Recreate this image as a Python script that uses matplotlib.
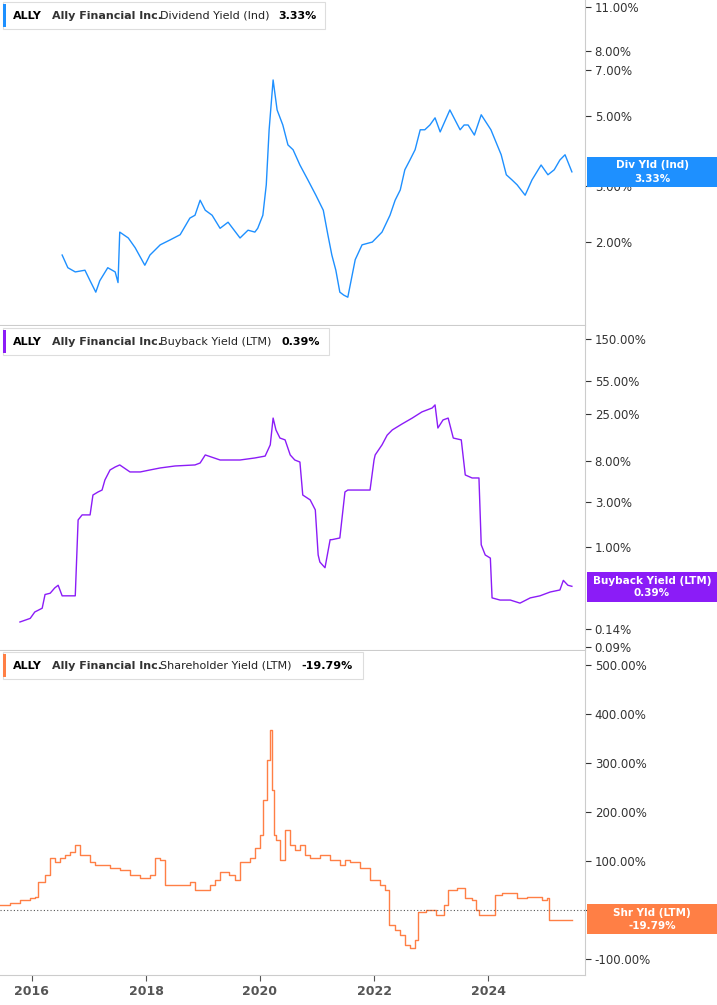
import matplotlib
matplotlib.use("Agg")
import matplotlib.pyplot as plt
from matplotlib.patches import Rectangle

# ---------------- data ----------------
div_years = [2016.53,2016.63,2016.76,2016.93,2017.02,2017.12,2017.19,2017.33,2017.46,2017.51,2017.54,2017.69,2017.81,2017.98,2018.07,2018.25,2018.42,2018.60,2018.77,2018.86,2018.95,2019.04,2019.16,2019.30,2019.44,2019.65,2019.79,2019.91,2019.96,2020.05,2020.11,2020.16,2020.23,2020.30,2020.40,2020.49,2020.58,2020.70,2020.84,2020.98,2021.11,2021.19,2021.26,2021.33,2021.40,2021.47,2021.54,2021.67,2021.79,2021.97,2022.14,2022.28,2022.37,2022.46,2022.54,2022.63,2022.72,2022.81,2022.89,2022.98,2023.07,2023.16,2023.33,2023.51,2023.58,2023.65,2023.76,2023.88,2024.05,2024.23,2024.32,2024.42,2024.51,2024.65,2024.77,2024.93,2025.05,2025.16,2025.26,2025.35,2025.47]
div_vals  = [1.82,1.66,1.61,1.63,1.51,1.39,1.51,1.66,1.61,1.49,2.15,2.06,1.92,1.69,1.82,1.96,2.03,2.11,2.38,2.43,2.71,2.52,2.43,2.21,2.31,2.06,2.18,2.15,2.21,2.43,3.03,4.52,6.49,5.22,4.68,4.05,3.91,3.50,3.14,2.81,2.52,2.11,1.82,1.63,1.39,1.36,1.34,1.76,1.96,2.00,2.15,2.43,2.71,2.92,3.38,3.63,3.91,4.52,4.52,4.68,4.93,4.45,5.22,4.52,4.68,4.68,4.35,5.04,4.52,3.77,3.26,3.14,3.03,2.81,3.14,3.50,3.26,3.38,3.63,3.77,3.33]

bb_years = [2015.79,2015.97,2016.05,2016.18,2016.23,2016.32,2016.40,2016.46,2016.53,2016.67,2016.76,2016.81,2016.88,2017.02,2017.07,2017.16,2017.23,2017.28,2017.37,2017.46,2017.54,2017.72,2017.90,2018.07,2018.25,2018.51,2018.86,2018.95,2019.04,2019.30,2019.65,2019.91,2020.09,2020.18,2020.23,2020.28,2020.35,2020.44,2020.53,2020.61,2020.70,2020.75,2020.88,2020.97,2021.02,2021.05,2021.14,2021.23,2021.26,2021.40,2021.49,2021.54,2021.93,2022.00,2022.02,2022.14,2022.23,2022.32,2022.49,2022.67,2022.84,2023.02,2023.07,2023.12,2023.21,2023.30,2023.39,2023.53,2023.60,2023.72,2023.84,2023.88,2023.95,2024.04,2024.07,2024.21,2024.39,2024.56,2024.74,2024.91,2025.09,2025.26,2025.32,2025.40,2025.47]
bb_vals  = [0.165,0.18,0.21,0.23,0.32,0.33,0.375,0.40,0.31,0.31,0.31,1.93,2.18,2.18,3.52,3.79,3.97,5.06,6.44,6.92,7.27,6.14,6.14,6.44,6.76,7.09,7.27,7.62,9.25,8.19,8.19,8.6,9.0,11.8,22.5,16.9,13.9,13.3,9.25,8.19,7.8,3.52,3.13,2.46,0.83,0.70,0.61,1.2,1.2,1.25,3.79,3.97,3.97,8.19,9.25,11.8,14.9,16.9,19.5,22.5,26.1,28.7,30.9,17.7,21.5,22.5,13.9,13.3,5.71,5.31,5.31,1.06,0.83,0.77,0.295,0.28,0.28,0.26,0.295,0.31,0.34,0.357,0.45,0.40,0.39]

shr_years = [2015.44,2015.61,2015.79,2015.97,2016.05,2016.11,2016.23,2016.32,2016.40,2016.49,2016.58,2016.67,2016.76,2016.84,2017.02,2017.11,2017.19,2017.37,2017.54,2017.72,2017.90,2018.07,2018.16,2018.25,2018.33,2018.60,2018.77,2018.86,2019.12,2019.21,2019.30,2019.46,2019.56,2019.65,2019.82,2019.91,2020.00,2020.05,2020.12,2020.18,2020.21,2020.25,2020.28,2020.35,2020.44,2020.53,2020.61,2020.70,2020.79,2020.88,2021.05,2021.23,2021.40,2021.49,2021.58,2021.75,2021.93,2022.02,2022.11,2022.19,2022.26,2022.37,2022.46,2022.54,2022.63,2022.72,2022.77,2022.91,2023.09,2023.23,2023.30,2023.46,2023.60,2023.72,2023.79,2023.84,2024.07,2024.12,2024.24,2024.51,2024.69,2024.95,2025.04,2025.07,2025.47]
shr_vals  = [10,14,20,24,27,57,71,106,98,106,112,118,133,112,98,92,92,86,82,71,65,71,106,102,51,51,57,41,51,61,78,71,61,98,106,127,153,224,306,367,245,153,143,102,163,133,122,133,112,106,112,102,92,102,98,86,61,61,51,41,-31,-41,-51,-71,-78,-61,-4,0,-10,10,41,45,24,20,0,-10,-10,31,35,24,27,20,24,-20,-20]

div_ticks = [2, 3, 5, 7, 8, 11]
bb_ticks = [0.09, 0.14, 1, 3, 8, 25, 55, 150]
shr_ticks = [-100, 0, 100, 200, 300, 400, 500]
x_ticks = [2016, 2018, 2020, 2022, 2024]

C_DIV, C_BB, C_SHR = "#1e90ff", "#8b1cf7", "#ff7f45"

W, H = 717, 1005
fig = plt.figure(figsize=(W/100, H/100), dpi=100)
R = 585 / W

def mkax(top, bot):
    return fig.add_axes([0, 1 - bot/H, R, (bot-top)/H])

ax1 = mkax(0, 325); ax2 = mkax(326, 650); ax3 = mkax(651, 975)
for ax in (ax1, ax2, ax3):
    ax.set_xlim(2015.44, 2025.70)
    for s in ("left", "top"):
        ax.spines[s].set_visible(False)
    ax.spines["right"].set_color("#cccccc")
    ax.spines["bottom"].set_color("#cccccc")
    ax.yaxis.tick_right()
    ax.tick_params(axis="y", labelsize=8.5, colors="#333333", length=4, pad=3)
    ax.set_xticks(x_ticks)
for ax in (ax1, ax2):
    ax.tick_params(axis="x", length=0, labelbottom=False)
ax3.tick_params(axis="x", labelsize=9, colors="#555555", length=4)
ax3.set_xticklabels([str(t) for t in x_ticks], fontweight="bold")

ax1.plot(div_years, div_vals, color=C_DIV, lw=1)
ax1.set_yscale("log"); ax1.set_ylim(1.095, 11.6)
ax1.minorticks_off()
ax1.set_yticks(div_ticks); ax1.set_yticklabels([f"{t:.2f}%" for t in div_ticks])

ax2.plot(bb_years, bb_vals, color=C_BB, lw=1)
ax2.set_yscale("log"); ax2.set_ylim(0.084, 207)
ax2.minorticks_off()
ax2.set_yticks(bb_ticks); ax2.set_yticklabels([f"{t:.2f}%" for t in bb_ticks])

ax3.step(shr_years, shr_vals, where="post", color=C_SHR, lw=1)
ax3.set_ylim(-133, 528)
ax3.set_yticks(shr_ticks); ax3.set_yticklabels([f"{t:.2f}%" for t in shr_ticks])
ax3.axhline(0, color="#555555", lw=0.8, ls=(0, (1, 2)))

def legend(color, metric, val, ypix, val_x, box_w):
    y = 1 - ypix/H
    fig.patches.append(Rectangle((3/W, y-13/H), box_w/W, 27/H, transform=fig.transFigure,
                                 facecolor="white", edgecolor="#dddddd", lw=0.8))
    fig.patches.append(Rectangle((3/W, y-11/H), 3/W, 23/H, transform=fig.transFigure,
                                 facecolor=color, edgecolor="none"))
    fs = 8
    fig.text(13/W, y, "ALLY", fontsize=fs, fontweight="bold", va="center")
    fig.text(52/W, y, "Ally Financial Inc.", fontsize=fs, fontweight="bold", color="#333333", va="center")
    fig.text(160/W, y, metric, fontsize=fs, color="#222222", va="center")
    fig.text(val_x/W, y, val, fontsize=fs, fontweight="bold", va="center")

legend(C_DIV, "Dividend Yield (Ind)", "3.33%", 16, 278, 322)
legend(C_BB, "Buyback Yield (LTM)", "0.39%", 342, 281, 326)
legend(C_SHR, "Shareholder Yield (LTM)", "-19.79%", 666, 301, 360)

def tag(color, l1, l2, ypix):
    yc = 1 - ypix/H
    fig.patches.append(Rectangle((587/W, yc-15/H), 1-587/W, 30/H, transform=fig.transFigure,
                                 facecolor=color, edgecolor="none"))
    fig.text(652/W, yc+6.5/H, l1, color="white", fontsize=7.5, fontweight="bold", ha="center", va="center")
    fig.text(652/W, yc-6.5/H, l2, color="white", fontsize=7.5, fontweight="bold", ha="center", va="center")

tag(C_DIV, "Div Yld (Ind)", "3.33%", 172)
tag(C_BB, "Buyback Yield (LTM)", "0.39%", 587)
tag(C_SHR, "Shr Yld (LTM)", "-19.79%", 919)

fig.savefig("out.png", dpi=100)
